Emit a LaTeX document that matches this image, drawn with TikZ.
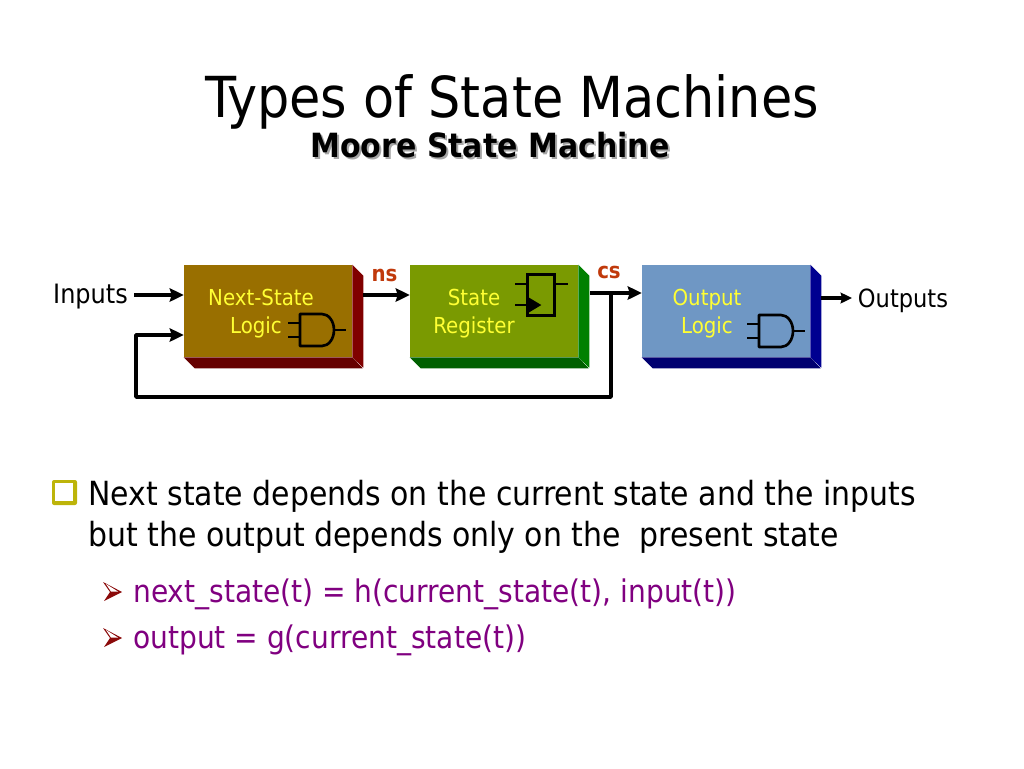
\documentclass[tikz,border=0pt]{standalone}
\usepackage{fontspec}
\setmainfont{DejaVu Sans Condensed}
\usetikzlibrary{arrows.meta}

\definecolor{brownface}{HTML}{996F00}
\definecolor{brownside}{HTML}{800000}
\definecolor{brownbase}{HTML}{660000}
\definecolor{greenface}{HTML}{7A9A01}
\definecolor{greenside}{HTML}{008000}
\definecolor{greenbase}{HTML}{006000}
\definecolor{blueface}{HTML}{6F97C4}
\definecolor{blueside}{HTML}{000090}
\definecolor{bluebase}{HTML}{000070}
\definecolor{labelred}{HTML}{C0390B}
\definecolor{textyellow}{HTML}{FFFF33}
\definecolor{subpurple}{HTML}{800080}
\definecolor{bulletolive}{HTML}{BDB40A}
\definecolor{tipred}{HTML}{8B0A0A}

\tikzset{
    block/.style = {rectangle,
        inner sep = 0pt,
        minimum width = 126pt,
        minimum height = 69pt},
    blocktext/.style = {anchor = base,
        inner sep = 0pt,
        text = textyellow,
        font = \fontsize{16.5}{18}\selectfont},
    plaintext/.style = {anchor = base,
        inner sep = 0pt,
        font = \fontsize{18.8}{20}\selectfont},
    wirelabel/.style = {anchor = base,
        inner sep = 0pt,
        text = labelred,
        font = \fontsize{16.5}{18}\bfseries\selectfont},
    headtext/.style = {anchor = base,
        inner sep = 0pt,
        font = \fontsize{25}{28}\bfseries\selectfont},
    bodytext/.style = {anchor = base west,
        inner sep = 0pt,
        font = \fontsize{24.95}{28}\selectfont},
    subtext/.style = {anchor = base west,
        inner sep = 0pt,
        text = subpurple,
        font = \fontsize{23.4}{26}\selectfont},
    wire/.style = {line width = 2.6pt, -{Stealth[length = 10.5pt, width = 10pt, inset = 1.5pt]}},
    smallwire/.style = {line width = 2.4pt, -{Stealth[length = 8.5pt, width = 8pt, inset = 1pt]}},
    gateline/.style = {line width = 2pt},
    stubline/.style = {line width = 1.5pt},
    pics/andgate/.style = {code = {
        \draw[gateline, line join = round] (0,-16) -- (22,-16) arc (-90:90:12 and 16) -- (0,16) -- cycle;
        \draw[stubline] (-12,-7) -- (0,-7);
        \draw[stubline] (-12,7) -- (0,7);
        \draw[stubline] (34,0) -- (46,0);
    }},
    pics/tipbullet/.style = {code = {
        \fill[tipred] (0,0) -- (19,10) -- (1,19) -- (7,10) -- cycle;
        \fill[white] (3,2) -- (15,9.5) -- (8,9.5) -- cycle;
    }}
}

\newcommand{\blockshade}[3]{
    \fill[#2] (#1.north east) -- ++(11,11) -- ++(0,92) -- (#1.south east) -- cycle;
    \fill[#3] (#1.south west) -- ++(11,11) -- ++(168,0) -- (#1.south east) -- cycle;
}

\begin{document}
\begin{tikzpicture}[x=0.75pt,y=-0.75pt]
    \useasboundingbox (0,0) rectangle (1024,768);

    \node[anchor = base, inner sep = 0pt, font = \fontsize{42.4}{48}\selectfont] (title) at (512,117) {Types of State Machines};
    \node[headtext, text = black!35] (subshadow) at (492,159) {Moore State Machine};
    \node[headtext] (subtitle) at (490,157) {Moore State Machine};

    \node[block, fill = brownface] (nextlogic) at (268,311) {};
    \node[block, fill = greenface] (register) at (494,311) {};
    \node[block, fill = blueface] (outlogic) at (726,311) {};
    \blockshade{nextlogic}{brownside}{brownbase}
    \blockshade{register}{greenside}{greenbase}
    \blockshade{outlogic}{blueside}{bluebase}

    \node[blocktext] (nexta) at (261,305) {Next-State};
    \node[blocktext] (nextb) at (256,333) {Logic};
    \node[blocktext] (rega) at (474,305) {State};
    \node[blocktext] (regb) at (474,333) {Register};
    \node[blocktext] (outa) at (707,305) {Output};
    \node[blocktext] (outb) at (707,333) {Logic};

    \pic at (300,330) {andgate};
    \pic at (759,331) {andgate};

    % flip-flop symbol
    \node[rectangle, draw, gateline,
        inner sep = 0pt,
        minimum width = 20pt,
        minimum height = 31pt
        ] (flop) at (541,295) {};
    \coordinate (flopin) at (515,284);
    \coordinate (flopout) at (568,284);
    \coordinate (clockin) at (515,305);
    \draw[stubline] (flopin) -- (flop.west |- flopin);
    \draw[stubline] (flop.east |- flopout) -- (flopout);
    \draw[stubline] (clockin) -- (flop.west |- clockin);
    \fill (flop.west |- clockin) ++(0,-9) -- ++(15,9) -- ++(-15,9) -- cycle;

    \node[plaintext, font = \fontsize{20}{22}\selectfont] (inputs) at (90.5,303) {Inputs};
    \node[plaintext] (outputs) at (903,307) {Outputs};
    \node[wirelabel] (nslabel) at (384.5,281) {ns};
    \node[wirelabel] (cslabel) at (609,278) {cs};

    \coordinate (inputstart) at (134,295);
    \coordinate (nsstart) at (363,295);
    \coordinate (csstart) at (590,293);
    \coordinate (csjoin) at (611,293);
    \coordinate (outstart) at (821,298);
    \coordinate (outend) at (852,298);
    \coordinate (backlow) at (611,397);
    \coordinate (backleft) at (136,397);
    \coordinate (backup) at (136,335);

    \path[wire]
    (inputstart) edge [] (inputstart -| nextlogic.west)
    (nsstart) edge [] (nsstart -| register.west)
    (csstart) edge [] (csstart -| outlogic.west);
    \path[smallwire]
    (outstart) edge [] (outend);
    \draw[wire, line join = round] (csjoin) -- (backlow) -- (backleft) -- (backup) -- (backup -| nextlogic.west);

    % bullets
    \fill[bulletolive, rounded corners = 1.5pt] (52,480) rectangle (77,505);
    \fill[white] (55,483) rectangle (73,501);
    \pic at (103,582) {tipbullet};
    \pic at (103,628) {tipbullet};

    \node[bodytext] (linea) at (88,505) {Next state depends on the current state and the inputs};
    \node[bodytext] (lineb) at (88,546) {but the output depends only on the\ \ present state};
    \node[subtext] (subone) at (133,602) {next\_state(t) = h(current\_state(t), input(t))};
    \node[subtext] (subtwo) at (133,648) {output = g(current\_state(t))};
\end{tikzpicture}
\end{document}
